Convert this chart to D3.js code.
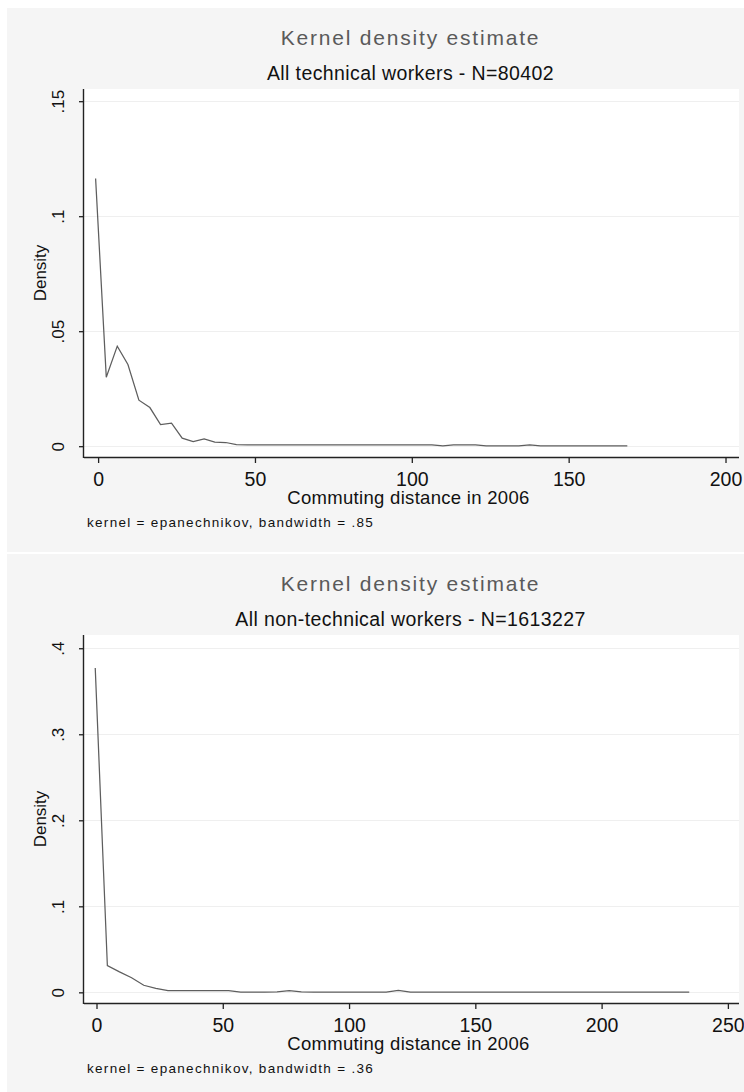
<!DOCTYPE html>
<html>
<head>
<meta charset="utf-8">
<script src="https://cdnjs.cloudflare.com/ajax/libs/d3/7.8.5/d3.min.js"></script>
<style>
  html, body { margin: 0; padding: 0; background: #ffffff; }
  svg { display: block; }
  text { font-family: "Liberation Sans", Arial, Helvetica, sans-serif; }
</style>
</head>
<body>
<svg id="chart" width="744" height="1092"></svg>
<script>
// ---------- DATA ----------
const titleText = "Kernel density estimate";
const subtitles = ["All technical workers - N=80402", "All non-technical workers - N=1613227"];
const xAxisTitle = "Commuting distance in 2006";
const notes = ["kernel = epanechnikov, bandwidth = .85", "kernel = epanechnikov, bandwidth = .36"];
const yAxisTitle = "Density";

// Panel 1: technical workers (evaluation points and density)
const techX = [-0.8, 2.6, 6.1, 9.5, 13.0, 16.5, 19.9, 23.4, 26.8, 30.3,
               33.8, 37.2, 40.7, 44.1, 47.6, 51.1, 54.5, 58.0, 61.4, 64.9,
               68.4, 71.8, 75.3, 78.7, 82.2, 85.7, 89.1, 92.6, 96.0, 99.5,
               103.0, 106.4, 109.9, 113.3, 116.8, 120.3, 123.7, 127.2, 130.6, 134.1,
               137.6, 141.0, 144.5, 147.9, 151.4, 154.9, 158.3, 161.8, 165.2, 168.7];
const techY = [0.1164, 0.0300, 0.0435, 0.0355, 0.0200, 0.0168, 0.0094, 0.0100, 0.0035, 0.0020,
               0.0032, 0.0018, 0.0016, 0.0007, 0.0006, 0.0006, 0.0006, 0.0006, 0.0006, 0.0006,
               0.0006, 0.0006, 0.0006, 0.0006, 0.0006, 0.0006, 0.0006, 0.0006, 0.0006, 0.0006,
               0.0006, 0.0006, 0.0001, 0.0006, 0.0006, 0.0006, 0.0001, 0.0001, 0.0001, 0.0001,
               0.0006, 0.0001, 0.0001, 0.0001, 0.0001, 0.0001, 0.0001, 0.0001, 0.0001, 0.0001];

// Panel 2: non-technical workers
const nonTechX = [-0.5, 4.3, 9.1, 13.9, 18.7, 23.5, 28.3, 33.1, 37.9, 42.7,
                  47.5, 52.3, 57.1, 61.9, 66.7, 71.5, 76.3, 81.1, 85.9, 90.7,
                  95.5, 100.3, 105.1, 109.9, 114.7, 119.5, 124.3, 129.1, 133.9, 138.7,
                  143.5, 148.3, 153.1, 157.9, 162.7, 167.5, 172.3, 177.1, 181.9, 186.7,
                  191.5, 196.3, 201.1, 205.9, 210.7, 215.5, 220.3, 225.1, 229.9, 234.7];
const nonTechY = [0.377, 0.031, 0.0238, 0.0170, 0.0082, 0.0047, 0.0019, 0.0019, 0.0019, 0.0019,
                  0.0019, 0.0019, 0.0002, 0.0002, 0.0002, 0.0004, 0.0020, 0.0004, 0.0002, 0.0002,
                  0.0002, 0.0002, 0.0002, 0.0002, 0.0002, 0.0023, 0.0002, 0.0002, 0.0002, 0.0002,
                  0.0002, 0.0002, 0.0002, 0.0002, 0.0002, 0.0002, 0.0002, 0.0002, 0.0002, 0.0002,
                  0.0002, 0.0002, 0.0002, 0.0002, 0.0002, 0.0002, 0.0002, 0.0002, 0.0002, 0.0002];

// Ticks
const techXTicks = [0, 50, 100, 150, 200];
const techYTicks = [0, 0.05, 0.1, 0.15];
const techYLabels = ["0", ".05", ".1", ".15"];
const nonTechXTicks = [0, 50, 100, 150, 200, 250];
const nonTechYTicks = [0, 0.1, 0.2, 0.3, 0.4];
const nonTechYLabels = ["0", ".1", ".2", ".3", ".4"];

// Axis ranges (including Stata's plot-region margins)
const techXDomain = [-4.5, 204.3];
const techYDomain = [-0.0047, 0.1553];
const nonTechXDomain = [-4.95, 254.4];
const nonTechYDomain = [-0.0124, 0.4154];

// ---------- DRAW ----------
const svg = d3.select("#chart");

const panels = [
  { top: 8, x: techX, y: techY, xTicks: techXTicks, yTicks: techYTicks, yLabels: techYLabels,
    xDomain: techXDomain, yDomain: techYDomain, subtitle: subtitles[0], note: notes[0] },
  { top: 554, x: nonTechX, y: nonTechY, xTicks: nonTechXTicks, yTicks: nonTechYTicks, yLabels: nonTechYLabels,
    xDomain: nonTechXDomain, yDomain: nonTechYDomain, subtitle: subtitles[1], note: notes[1] }
];

const plotLeft = 84, plotRight = 739;
const fontFam = "'Liberation Sans', Arial, sans-serif";

panels.forEach(p => {
  const g = svg.append("g").attr("transform", `translate(0,${p.top})`);
  // graph region background
  g.append("rect").attr("x", 7).attr("y", 0).attr("width", 744 - 7).attr("height", 544)
    .attr("fill", "#f5f5f5");

  const plotTop = 81, plotBottom = 449;
  // plot region
  g.append("rect").attr("x", plotLeft).attr("y", plotTop)
    .attr("width", plotRight - plotLeft).attr("height", plotBottom - plotTop)
    .attr("fill", "#ffffff");

  const x = d3.scaleLinear().domain(p.xDomain).range([plotLeft, plotRight]);
  const y = d3.scaleLinear().domain(p.yDomain).range([plotBottom, plotTop]);

  // gridlines
  g.append("g").selectAll("line").data(p.yTicks).join("line")
    .attr("x1", plotLeft).attr("x2", plotRight)
    .attr("y1", d => Math.round(y(d)) + 0.5).attr("y2", d => Math.round(y(d)) + 0.5)
    .attr("stroke", "#efefef").attr("stroke-width", 1);

  // density line
  const pts = p.x.map((v, i) => [v, p.y[i]]);
  g.append("path").datum(pts)
    .attr("d", d3.line().x(d => x(d[0])).y(d => y(d[1])))
    .attr("fill", "none").attr("stroke", "#5e5e5e").attr("stroke-width", 1.25);

  // x axis
  const xAxis = d3.axisBottom(x).tickValues(p.xTicks).tickSize(6).tickSizeOuter(0)
    .tickFormat(d3.format("d"));
  const xg = g.append("g").attr("transform", `translate(0,${plotBottom})`).call(xAxis);
  xg.select(".domain").attr("d", `M${plotLeft},0.5H${plotRight}`).attr("stroke", "#222").attr("stroke-width", 1.4);
  xg.selectAll(".tick line").attr("stroke", "#222").attr("stroke-width", 1.3);
  xg.selectAll(".tick text").attr("font-size", 19.5).attr("fill", "#111")
    .attr("font-family", fontFam).attr("dy", null).attr("y", 28.5);

  // y axis
  const yAxis = d3.axisLeft(y).tickValues(p.yTicks).tickSize(5).tickSizeOuter(0)
    .tickFormat((d, i) => p.yLabels[i]);
  const yg = g.append("g").attr("transform", `translate(${plotLeft},0)`).call(yAxis);
  yg.select(".domain").attr("d", `M-0.5,${plotTop}V${plotBottom + 1}`).attr("stroke", "#222").attr("stroke-width", 1.4);
  yg.selectAll(".tick line").attr("stroke", "#222").attr("stroke-width", 1.3);
  yg.selectAll(".tick text")
    .attr("font-size", 17).attr("fill", "#111")
    .attr("font-family", fontFam)
    .attr("text-anchor", "middle").attr("dy", null)
    .attr("x", null)
    .attr("transform", "translate(-20.5,0) rotate(-90)");

  const cx = (plotLeft + plotRight) / 2;
  // titles
  g.append("text").attr("x", cx - 1).attr("y", 37).attr("text-anchor", "middle")
    .attr("font-size", 21).attr("letter-spacing", 1.8).attr("fill", "#5a5a5a").text(titleText);
  g.append("text").attr("x", cx - 1).attr("y", 71.5).attr("text-anchor", "middle")
    .attr("font-size", 19.5).attr("letter-spacing", 0.4).attr("fill", "#111").text(p.subtitle);

  // axis titles
  g.append("text").attr("x", cx - 3).attr("y", 496).attr("text-anchor", "middle")
    .attr("font-size", 18.5).attr("letter-spacing", 0.3).attr("fill", "#111").text(xAxisTitle);
  g.append("text").attr("transform", `translate(46,${(plotTop + plotBottom) / 2}) rotate(-90)`)
    .attr("text-anchor", "middle").attr("font-size", 17).attr("fill", "#111").text(yAxisTitle);

  // note
  g.append("text").attr("x", 87).attr("y", 518.5).attr("font-size", 13.5)
    .attr("letter-spacing", 1.3).attr("fill", "#111").text(p.note);
});
</script>
</body>
</html>
